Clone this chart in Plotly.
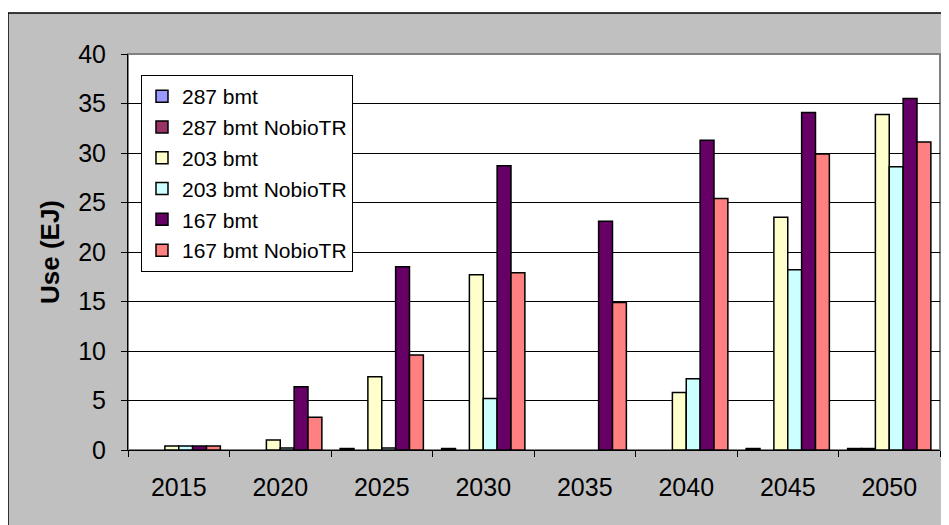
import plotly.graph_objects as go

years = ["2015", "2020", "2025", "2030", "2035", "2040", "2045", "2050"]

bmt_287 = [None, None, 0.15, 0.15, None, None, 0.15, 0.15]
bmt_287_nobio = [None, None, None, None, None, None, None, 0.15]
bmt_203 = [0.4, 1.0, 7.4, 17.7, None, 5.8, 23.5, 33.9]
bmt_203_nobio = [0.4, 0.2, 0.2, 5.2, None, 7.2, 18.2, 28.6]
bmt_167 = [0.4, 6.4, 18.5, 28.7, 23.1, 31.3, 34.1, 35.5]
bmt_167_nobio = [0.4, 3.3, 9.6, 17.9, 14.9, 25.4, 29.9, 31.1]

series = [
    ("287 bmt", bmt_287, "#9999FF"),
    ("287 bmt NobioTR", bmt_287_nobio, "#993366"),
    ("203 bmt", bmt_203, "#FFFFCC"),
    ("203 bmt NobioTR", bmt_203_nobio, "#CCFFFF"),
    ("167 bmt", bmt_167, "#660066"),
    ("167 bmt NobioTR", bmt_167_nobio, "#FF8080"),
]

font = "Arial, Liberation Sans, sans-serif"

fig = go.Figure()
for name, vals, color in series:
    fig.add_trace(
        go.Bar(
            x=years,
            y=vals,
            name=name,
            legendgroup=name,
            marker=dict(color=color, line=dict(color="black", width=1.5)),
        )
    )

# page body has an 8px margin, so the figure is sized to fit after it
fig.update_layout(
    width=941,
    height=517,
    margin=dict(l=120, r=9, t=46, b=75),
    paper_bgcolor="white",
    plot_bgcolor="white",
    barmode="group",
    bargap=0.18,
    bargroupgap=0,
    font=dict(family=font, color="black"),
    showlegend=True,
    legend=dict(
        x=0.016,
        y=0.947,
        xanchor="left",
        yanchor="top",
        bgcolor="white",
        bordercolor="black",
        borderwidth=1,
        font=dict(size=21, family=font),
        traceorder="grouped",
        tracegroupgap=0.5,
    ),
    shapes=[
        # grey chart area with black outline
        dict(type="rect", xref="paper", yref="paper",
             x0=-0.1478, x1=1.03, y0=-0.3, y1=1.1035,
             fillcolor="#C0C0C0", line=dict(color="black", width=1.5),
             layer="below"),
        # white plot area
        dict(type="rect", xref="paper", yref="paper",
             x0=0, x1=1, y0=0, y1=1,
             fillcolor="white", line=dict(color="#808080", width=2),
             layer="below"),
    ],
)

fig.update_xaxes(
    type="category",
    tickson="boundaries",
    ticks="outside",
    ticklen=6,
    tickcolor="black",
    showline=True,
    linecolor="black",
    linewidth=1,
    tickfont=dict(size=25),
    ticklabelstandoff=15,
    showgrid=False,
)

fig.update_yaxes(
    range=[0, 40],
    dtick=5,
    ticks="outside",
    ticklen=6,
    tickcolor="black",
    showline=True,
    linecolor="black",
    linewidth=1,
    showgrid=True,
    gridcolor="black",
    gridwidth=1,
    zeroline=False,
    tickfont=dict(size=25),
    ticklabelstandoff=10,
    title=dict(text="<b>Use (EJ)</b>", font=dict(size=26), standoff=11),
)

fig.write_html("out.html")
